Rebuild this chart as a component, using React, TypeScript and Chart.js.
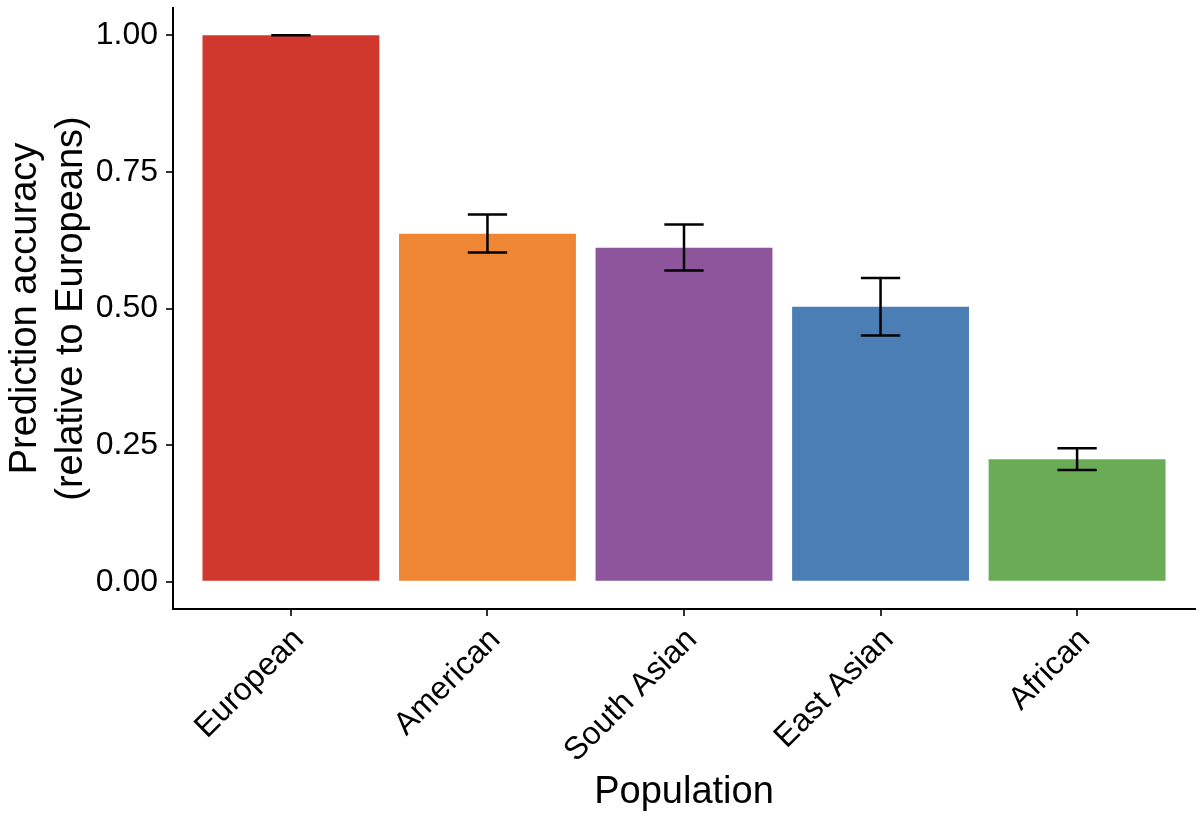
import React, { useEffect, useRef } from "react";
import { Chart, registerables } from "chart.js";

Chart.register(...registerables);

// ---- Data ----
const categories = ["European", "American", "South Asian", "East Asian", "African"];
const accuracy = [1.0, 0.637, 0.611, 0.503, 0.224];
const errorLower = [1.0, 0.6025, 0.5695, 0.4506, 0.2042];
const errorUpper = [1.0, 0.672, 0.6537, 0.556, 0.2444];
const barColors = ["#D1382D", "#EE8634", "#8D559C", "#4A7EB4", "#6AAC56"];
const yTicks = [0, 0.25, 0.5, 0.75, 1.0];
const yTitle = ["Prediction accuracy", "(relative to Europeans)"];
const xTitle = "Population";

const FONT = "'Liberation Sans', Arial, Helvetica, sans-serif";
const CAP_WIDTH = 0.2; // in category units

const errorBarPlugin = {
  id: "errorBars",
  afterDatasetsDraw(chart: any) {
    const { ctx } = chart;
    const x = chart.scales.x;
    const y = chart.scales.y;
    ctx.save();
    ctx.strokeStyle = "#000";
    ctx.lineWidth = 2.5;
    ctx.lineCap = "butt";
    categories.forEach((_, i) => {
      const pos = i + 1;
      const cx = x.getPixelForValue(pos);
      const x0 = x.getPixelForValue(pos - CAP_WIDTH / 2);
      const x1 = x.getPixelForValue(pos + CAP_WIDTH / 2);
      const yl = y.getPixelForValue(errorLower[i]);
      const yu = y.getPixelForValue(errorUpper[i]);
      ctx.beginPath();
      ctx.moveTo(cx, yl);
      ctx.lineTo(cx, yu);
      ctx.moveTo(x0, yl);
      ctx.lineTo(x1, yl);
      ctx.moveTo(x0, yu);
      ctx.lineTo(x1, yu);
      ctx.stroke();
    });
    ctx.restore();
  },
};

export default function App() {
  const canvasRef = useRef<HTMLCanvasElement | null>(null);

  useEffect(() => {
    if (!canvasRef.current) return;
    const chart = new Chart(canvasRef.current, {
      type: "bar",
      data: {
        datasets: [
          {
            data: categories.map((_, i) => ({ x: i + 1, y: accuracy[i] })),
            backgroundColor: barColors,
            borderWidth: 0,
            categoryPercentage: 1,
            barPercentage: 0.9,
          } as any,
        ],
      },
      options: {
        animation: false,
        responsive: true,
        maintainAspectRatio: false,
        layout: { padding: { top: 8, right: 5, left: 0, bottom: 0 } },
        plugins: { legend: { display: false }, tooltip: { enabled: false } },
        scales: {
          x: {
            type: "linear",
            offset: false,
            min: 0.4,
            max: 5.6,
            afterBuildTicks: (s: any) => {
              s.ticks = categories.map((_, i) => ({ value: i + 1 }));
            },
            afterFit: (s: any) => {
              s.height = 214;
              s.paddingLeft = 0;
              s.paddingRight = 0;
            },
            grid: {
              offset: false,
              drawOnChartArea: false,
              drawTicks: true,
              tickLength: 7,
              color: "#333",
              lineWidth: 2,
            },
            border: { display: true, color: "#000", width: 2 },
            ticks: {
              autoSkip: false,
              minRotation: 45,
              maxRotation: 45,
              padding: 5,
              labelOffset: 8,
              color: "#000",
              font: { family: FONT, size: 32 },
              callback: (v: any) => categories[Math.round(Number(v)) - 1] ?? "",
            },
            title: {
              display: true,
              text: xTitle,
              color: "#000",
              font: { family: FONT, size: 38 },
              padding: { top: 0, bottom: 8 },
            },
          },
          y: {
            type: "linear",
            min: -0.05,
            max: 1.05,
            afterBuildTicks: (s: any) => {
              s.ticks = yTicks.map((v) => ({ value: v }));
            },
            afterFit: (s: any) => {
              s.width = 173;
              s.paddingTop = 0;
              s.paddingBottom = 0;
            },
            grid: {
              drawOnChartArea: false,
              drawTicks: true,
              tickLength: 7,
              color: "#333",
              lineWidth: 2,
            },
            border: { display: true, color: "#000", width: 2 },
            ticks: {
              padding: 8,
              color: "#000",
              font: { family: FONT, size: 32 },
              callback: (v: any) => Number(v).toFixed(2),
            },
            title: {
              display: true,
              text: yTitle,
              color: "#000",
              font: { family: FONT, size: 38, lineHeight: 1.2 },
              padding: { top: 3, bottom: 0 },
            },
          },
        },
      } as any,
      plugins: [errorBarPlugin],
    });
    return () => chart.destroy();
  }, []);

  return (
    <div
      style={{
        position: "absolute",
        left: 0,
        top: 0,
        width: 1200,
        height: 823,
        background: "#fff",
      }}
    >
      <canvas ref={canvasRef} />
    </div>
  );
}
